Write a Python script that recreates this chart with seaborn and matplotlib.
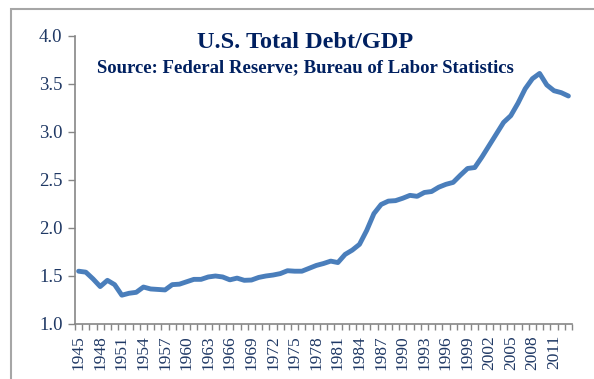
import matplotlib
matplotlib.use("Agg")
import matplotlib.pyplot as plt
import seaborn as sns
import numpy as np
import pandas as pd
from matplotlib.patches import Rectangle

years = list(range(1945, 2014))
debt_gdp = [1.55, 1.54, 1.47, 1.39, 1.455, 1.41, 1.30, 1.32, 1.33, 1.385,
            1.365, 1.36, 1.355, 1.41, 1.415, 1.44, 1.465, 1.465, 1.49, 1.50,
            1.49, 1.46, 1.478, 1.455, 1.458, 1.485, 1.50, 1.51, 1.525, 1.555,
            1.55, 1.55, 1.58, 1.61, 1.63, 1.655, 1.64, 1.725, 1.77, 1.83,
            1.975, 2.15, 2.245, 2.28, 2.285, 2.31, 2.34, 2.33, 2.37, 2.38,
            2.425, 2.455, 2.475, 2.55, 2.62, 2.63, 2.74, 2.86, 2.98, 3.10,
            3.17, 3.30, 3.45, 3.555, 3.61, 3.49, 3.43, 3.41, 3.375]
tick_years = list(range(1945, 2012, 3))
y_ticks = [1.0, 1.5, 2.0, 2.5, 3.0, 3.5, 4.0]

df = pd.DataFrame({"year": years, "ratio": debt_gdp})

sns.set_theme(style="white")
plt.rcParams['font.family'] = ['Liberation Serif', 'DejaVu Serif']

W, H = 594, 379
fig = plt.figure(figsize=(W / 100, H / 100), dpi=100)
fig.patch.set_facecolor("white")

# outer chart-area frame
fig.patches.append(Rectangle((11 / W, -0.05), 1.2, (H - 9) / H + 0.05,
                             transform=fig.transFigure, fill=False,
                             edgecolor="#A6A6A6", linewidth=1.5))

ax = fig.add_axes([75 / W, (H - 324) / H, 497 / W, 288 / H])
sns.lineplot(data=df, x="year", y="ratio", ax=ax, color="#4A7EBB",
             linewidth=3.5, solid_joinstyle="round", solid_capstyle="round")

ax.set_xlim(years[0] - 0.5, years[-1] + 0.5)
ax.set_ylim(1.0, 4.0)
ax.set_xlabel("")
ax.set_ylabel("")

txt_color = "#1F3864"
ax.set_yticks(y_ticks)
ax.set_yticklabels([f"{v:.1f}" for v in y_ticks], fontsize=13.5, color=txt_color)
ax.set_xticks(tick_years)
ax.set_xticklabels([str(y) for y in tick_years], rotation=90, fontsize=12.5,
                   color=txt_color)
ax.set_xticks(np.arange(years[0] - 0.5, years[-1] + 0.51, 1.0), minor=True)
ax.tick_params(axis="x", which="major", length=0, pad=8)
ax.tick_params(axis="x", which="minor", length=4, width=1, color="#868686",
               direction="out", bottom=True)
ax.tick_params(axis="y", which="major", length=5, width=1, color="#868686",
               direction="out", left=True, pad=4)

for s in ["top", "right"]:
    ax.spines[s].set_visible(False)
for s in ["left", "bottom"]:
    ax.spines[s].set_color("#868686")
    ax.spines[s].set_linewidth(1.2)
ax.grid(False)

fig.text(305 / W, 1 - 43 / H, "U.S. Total Debt/GDP", ha="center", va="center",
         fontsize=17.5, fontweight="bold", color="#002060")
fig.text(305 / W, 1 - 68 / H,
         "Source: Federal Reserve; Bureau of Labor Statistics",
         ha="center", va="center", fontsize=13.5, fontweight="bold",
         color="#002060")

fig.savefig("out.png", dpi=100, facecolor="white")
